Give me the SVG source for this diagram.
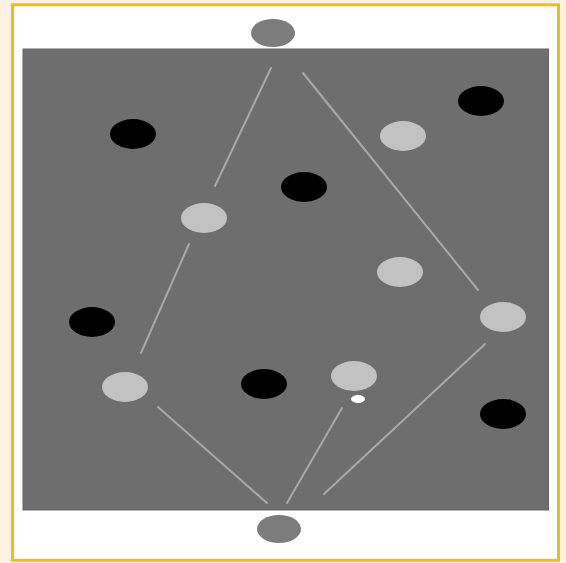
<svg xmlns="http://www.w3.org/2000/svg" width="566" height="563" viewBox="0 0 566 563">
  <style>
    .frame { fill: #ffffff; stroke: #eebc1c; stroke-width: 3; }
    .field { fill: #6e6e6e; stroke: #646464; stroke-width: 1; }
    .port { fill: #7c7c7c; }
    .dark { fill: #000000; }
    .light { fill: #c2c2c2; }
    .spot { fill: #ffffff; }
    .link { stroke: #a8a8a8; stroke-width: 2; fill: none; stroke-linecap: round; }
  </style>
  <rect x="0" y="0" width="566" height="563" fill="#fdf2e2"/>
  <rect class="frame" x="12.5" y="4.8" width="546" height="555.5"/>
  <rect class="field" x="23" y="49" width="525.5" height="461"/>

  <g id="connectors">
    <line class="link" x1="271" y1="68" x2="215" y2="186"/>
    <line class="link" x1="189" y1="244" x2="141" y2="353"/>
    <line class="link" x1="303" y1="73" x2="478" y2="290"/>
    <line class="link" x1="485" y1="344" x2="324" y2="494"/>
    <line class="link" x1="158" y1="407" x2="267" y2="503"/>
    <line class="link" x1="342" y1="408" x2="287" y2="503"/>
  </g>

  <g id="port-top"><ellipse class="port" cx="273" cy="33" rx="22" ry="14"/></g>
  <g id="port-bottom"><ellipse class="port" cx="279" cy="529" rx="22" ry="14"/></g>

  <g id="dark-1"><ellipse class="dark" cx="133" cy="134" rx="23" ry="15"/></g>
  <g id="dark-2"><ellipse class="dark" cx="481" cy="101" rx="23" ry="15"/></g>
  <g id="dark-3"><ellipse class="dark" cx="304" cy="187" rx="23" ry="15"/></g>
  <g id="dark-4"><ellipse class="dark" cx="92" cy="322" rx="23" ry="15"/></g>
  <g id="dark-5"><ellipse class="dark" cx="264" cy="384" rx="23" ry="15"/></g>
  <g id="dark-6"><ellipse class="dark" cx="503" cy="414" rx="23" ry="15"/></g>

  <g id="light-1"><ellipse class="light" cx="403" cy="136" rx="23" ry="15"/></g>
  <g id="light-2"><ellipse class="light" cx="204" cy="218" rx="23" ry="15"/></g>
  <g id="light-3"><ellipse class="light" cx="400" cy="272" rx="23" ry="15"/></g>
  <g id="light-4"><ellipse class="light" cx="503" cy="317" rx="23" ry="15"/></g>
  <g id="light-5"><ellipse class="light" cx="125" cy="387" rx="23" ry="15"/></g>
  <g id="light-6"><ellipse class="light" cx="354" cy="376" rx="23" ry="15"/></g>

  <g id="spot"><ellipse class="spot" cx="358" cy="399" rx="7" ry="4"/></g>
</svg>
